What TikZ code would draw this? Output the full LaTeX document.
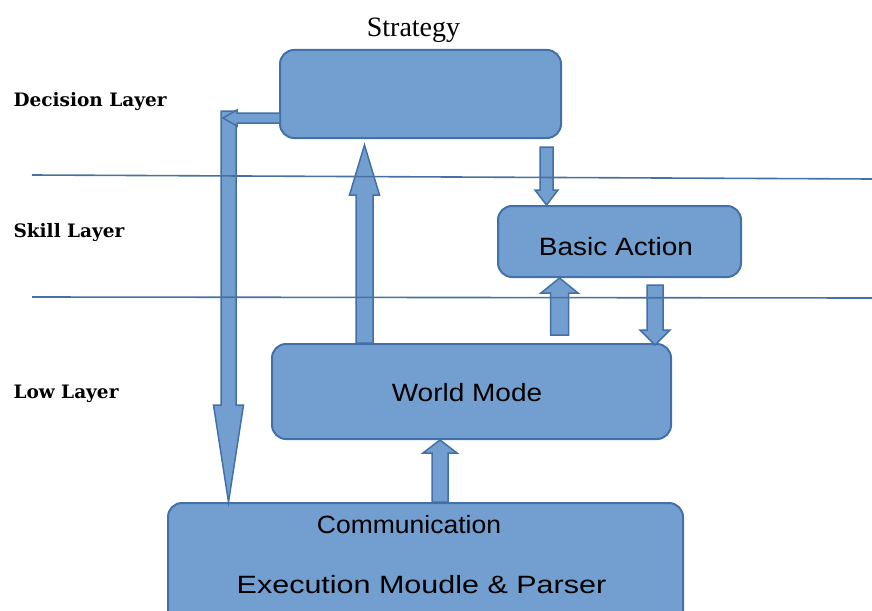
\documentclass[tikz,border=0pt]{standalone}
\usepackage{fontspec}
\setmainfont{Liberation Serif}
\newfontfamily\boxfont[FakeStretch=1.12]{Liberation Sans}
\newfontfamily\commfont[FakeStretch=1.06]{Liberation Sans}
\newfontfamily\execfont[FakeStretch=1.22]{Liberation Sans}
\newfontfamily\layerfont{DejaVu Serif}
\definecolor{boxfill}{RGB}{114,159,207}
\definecolor{boxline}{RGB}{66,112,168}
\definecolor{sepline}{RGB}{72,112,160}
% x, y tail, y tip, shaft half width, head half width, head length
\newcommand{\arrowdown}[6]{%
  \filldraw[arr] ({#1-#4},#2) -- ({#1+#4},#2) -- ({#1+#4},{#3-#6}) -- ({#1+#5},{#3-#6}) -- (#1,#3) -- ({#1-#5},{#3-#6}) -- ({#1-#4},{#3-#6}) -- cycle;}
\newcommand{\arrowup}[6]{%
  \filldraw[arr] ({#1-#4},#2) -- ({#1+#4},#2) -- ({#1+#4},{#3+#6}) -- ({#1+#5},{#3+#6}) -- (#1,#3) -- ({#1-#5},{#3+#6}) -- ({#1-#4},{#3+#6}) -- cycle;}
% y, x tail, x tip, shaft half width, head half width, head length
\newcommand{\arrowleft}[6]{%
  \filldraw[arr] (#2,{#1-#4}) -- (#2,{#1+#4}) -- ({#3+#6},{#1+#4}) -- ({#3+#6},{#1+#5}) -- (#3,#1) -- ({#3+#6},{#1-#5}) -- ({#3+#6},{#1-#4}) -- cycle;}
\begin{document}
\begin{tikzpicture}[x=1pt,y=-1pt,
  box/.style={draw=boxline, fill=boxfill, line width=2pt, rounded corners=14pt, inner sep=0pt},
  arr/.style={draw=boxline, fill=boxfill, line width=1.5pt, line join=miter},
  sepl/.style={draw=sepline, line width=1.6pt},
  lay/.style={anchor=base west, font={\layerfont\bfseries\fontsize{18.5}{18.5}\selectfont}},
  btxt/.style={font={\boxfont\fontsize{25}{25}\selectfont}, anchor=base}]
\useasboundingbox (0,0) rectangle (872,610);
\clip (0,0) rectangle (872,610);

% boxes
\node[box, minimum width=281, minimum height=88] (strat) at (420.5,94) {};
\node[box, minimum width=243, minimum height=71] (basic) at (619.5,241.5) {};
\node[box, minimum width=399, minimum height=95] (world) at (471.5,391.5) {};
\node[box, minimum width=515, minimum height=130] (comm) at (425.5,568) {};

% block arrows
\arrowdown{228.5}{111}{502}{7.5}{15}{97}
\arrowleft{118}{280}{223}{5}{8}{14}
\arrowup{364.5}{343}{145}{8.5}{15}{50}
\arrowdown{546.5}{147}{205}{6.5}{11.5}{15}
\arrowup{559.5}{335}{278}{9}{18.5}{15}
\arrowdown{655}{285}{345}{8}{15}{15}
\arrowup{440}{502}{440}{8}{17}{13}

% layer separators
\coordinate (l1a) at (32,175);
\coordinate (l1b) at (872,179);
\coordinate (l2a) at (32,297);
\coordinate (l2b) at (872,298);
\draw[sepl] (l1a) -- (l1b);
\draw[sepl] (l2a) -- (l2b);

% texts
\node[anchor=base] (stt) at (413.5,37) {\fontsize{28}{28}\selectfont Strategy};
\node[btxt] (tba) at (616,255) {Basic Action};
\node[btxt] (twm) at (467,401) {World Mode};
\node[btxt, font={\commfont\fontsize{25}{25}\selectfont}] (tco) at (409,533) {Communication};
\node[btxt, font={\execfont\fontsize{25}{25}\selectfont}] (tex) at (421.5,593) {Execution Moudle \& Parser};

\node[lay] (ld) at (10,106) {Decision Layer};
\node[lay] (ls) at (10,237) {Skill Layer};
\node[lay] (ll) at (10,398) {Low Layer};
\end{tikzpicture}
\end{document}
